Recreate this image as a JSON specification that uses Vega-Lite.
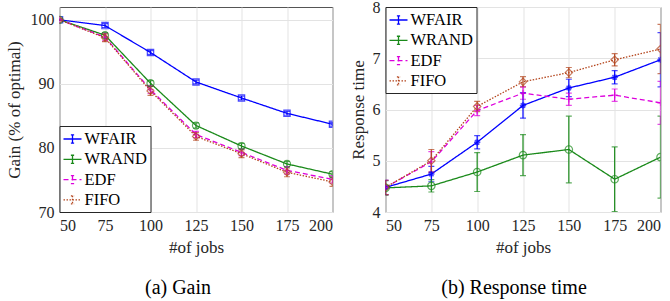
{
  "$schema": "https://vega.github.io/schema/vega-lite/v6.json",
  "padding": {"left": 4.5, "top": -2, "right": 0, "bottom": 0},
  "background": "white",
  "bounds": "flush",
  "spacing": 53,
  "datasets": {
    "gain": [
      {"jobs": 50, "series": "WFAIR", "value": 100, "err": 0.1},
      {"jobs": 75, "series": "WFAIR", "value": 99.1, "err": 0.3},
      {"jobs": 100, "series": "WFAIR", "value": 94.9, "err": 0.3},
      {"jobs": 125, "series": "WFAIR", "value": 90.3, "err": 0.3},
      {"jobs": 150, "series": "WFAIR", "value": 87.8, "err": 0.3},
      {"jobs": 175, "series": "WFAIR", "value": 85.4, "err": 0.3},
      {"jobs": 200, "series": "WFAIR", "value": 83.7, "err": 0.3},
      {"jobs": 50, "series": "WRAND", "value": 100, "err": 0.1},
      {"jobs": 75, "series": "WRAND", "value": 97.6, "err": 0.4},
      {"jobs": 100, "series": "WRAND", "value": 90.1, "err": 0.4},
      {"jobs": 125, "series": "WRAND", "value": 83.5, "err": 0.4},
      {"jobs": 150, "series": "WRAND", "value": 80.3, "err": 0.4},
      {"jobs": 175, "series": "WRAND", "value": 77.5, "err": 0.4},
      {"jobs": 200, "series": "WRAND", "value": 75.9, "err": 0.4},
      {"jobs": 50, "series": "EDF", "value": 100, "err": 0.1},
      {"jobs": 75, "series": "EDF", "value": 97.3, "err": 0.6},
      {"jobs": 100, "series": "EDF", "value": 89.1, "err": 0.6},
      {"jobs": 125, "series": "EDF", "value": 82.1, "err": 0.5},
      {"jobs": 150, "series": "EDF", "value": 79.3, "err": 0.5},
      {"jobs": 175, "series": "EDF", "value": 76.5, "err": 0.6},
      {"jobs": 200, "series": "EDF", "value": 75.1, "err": 0.6},
      {"jobs": 50, "series": "FIFO", "value": 100, "err": 0.1},
      {"jobs": 75, "series": "FIFO", "value": 97.2, "err": 0.6},
      {"jobs": 100, "series": "FIFO", "value": 88.9, "err": 0.7},
      {"jobs": 125, "series": "FIFO", "value": 81.8, "err": 0.6},
      {"jobs": 150, "series": "FIFO", "value": 79.1, "err": 0.6},
      {"jobs": 175, "series": "FIFO", "value": 76.2, "err": 0.7},
      {"jobs": 200, "series": "FIFO", "value": 74.7, "err": 0.7}
    ],
    "resp": [
      {"jobs": 50, "series": "WFAIR", "value": 4.48, "err": 0.14},
      {"jobs": 75, "series": "WFAIR", "value": 4.74, "err": 0.15},
      {"jobs": 100, "series": "WFAIR", "value": 5.36, "err": 0.13},
      {"jobs": 125, "series": "WFAIR", "value": 6.08, "err": 0.25},
      {"jobs": 150, "series": "WFAIR", "value": 6.42, "err": 0.17},
      {"jobs": 175, "series": "WFAIR", "value": 6.63, "err": 0.13},
      {"jobs": 200, "series": "WFAIR", "value": 6.97, "err": 0.53},
      {"jobs": 50, "series": "WRAND", "value": 4.47, "err": 0.14},
      {"jobs": 75, "series": "WRAND", "value": 4.51, "err": 0.12},
      {"jobs": 100, "series": "WRAND", "value": 4.78, "err": 0.38},
      {"jobs": 125, "series": "WRAND", "value": 5.11, "err": 0.4},
      {"jobs": 150, "series": "WRAND", "value": 5.22, "err": 0.65},
      {"jobs": 175, "series": "WRAND", "value": 4.64, "err": 0.63},
      {"jobs": 200, "series": "WRAND", "value": 5.07, "err": 0.8},
      {"jobs": 50, "series": "EDF", "value": 4.48, "err": 0.14},
      {"jobs": 75, "series": "EDF", "value": 4.98, "err": 0.2},
      {"jobs": 100, "series": "EDF", "value": 5.98, "err": 0.1},
      {"jobs": 125, "series": "EDF", "value": 6.32, "err": 0.12},
      {"jobs": 150, "series": "EDF", "value": 6.2, "err": 0.12},
      {"jobs": 175, "series": "EDF", "value": 6.28, "err": 0.12},
      {"jobs": 200, "series": "EDF", "value": 6.13, "err": 0.42},
      {"jobs": 50, "series": "FIFO", "value": 4.48, "err": 0.14},
      {"jobs": 75, "series": "FIFO", "value": 5.0, "err": 0.22},
      {"jobs": 100, "series": "FIFO", "value": 6.06, "err": 0.1},
      {"jobs": 125, "series": "FIFO", "value": 6.54, "err": 0.1},
      {"jobs": 150, "series": "FIFO", "value": 6.72, "err": 0.1},
      {"jobs": 175, "series": "FIFO", "value": 6.97, "err": 0.12},
      {"jobs": 200, "series": "FIFO", "value": 7.18, "err": 0.48}
    ]
  },
  "hconcat": [
    {
      "width": 273,
      "height": 205,
      "data": {"name": "gain"},
      "title": {"text": "(a) Gain", "orient": "bottom", "offset": 23, "dx": -18, "anchor": "middle", "frame": "group"},
      "encoding": {
        "x": {"field": "jobs", "type": "quantitative", "scale": {"domain": [50, 200], "nice": false}, "axis": {"values": [50, 75, 100, 125, 150, 175, 200], "title": "#of jobs"}},
        "y": {"field": "value", "type": "quantitative", "scale": {"domain": [70, 102], "nice": false, "zero": false}, "axis": {"values": [70, 80, 90, 100], "title": "Gain (% of optimal)", "titlePadding": 7}}
      },
      "layer": [
        {
          "mark": {"type": "line", "strokeWidth": 1.3, "clip": true},
          "encoding": {
            "strokeDash": {"field": "series", "type": "nominal", "sort": ["WFAIR", "WRAND", "EDF", "FIFO"], "scale": {"domain": ["WFAIR", "WRAND", "EDF", "FIFO"], "range": [[1, 0], [1, 0], [5, 3], [1.5, 1.5]]}, "legend": {"orient": "bottom-left", "title": null}},
            "color": {"field": "series", "type": "nominal", "sort": ["WFAIR", "WRAND", "EDF", "FIFO"], "scale": {"domain": ["WFAIR", "WRAND", "EDF", "FIFO"], "range": ["#0000ff", "#1a8a1a", "#dd00dd", "#b4461e"]}, "legend": {"orient": "bottom-left", "title": null}}
          }
        },
        {
          "mark": {"type": "errorbar", "ticks": {"size": 6}, "thickness": 1.2, "clip": true},
          "encoding": {
            "yError": {"field": "err"},
            "color": {"field": "series", "type": "nominal", "legend": null}
          }
        },
        {"transform": [{"filter": "datum.series === 'WFAIR'"}], "mark": {"type": "point", "shape": "square", "filled": false, "size": 40, "strokeWidth": 1.2, "color": "#0000ff", "clip": true}},
        {"transform": [{"filter": "datum.series === 'WRAND'"}], "mark": {"type": "point", "shape": "circle", "filled": false, "size": 50, "strokeWidth": 1.2, "color": "#1a8a1a", "clip": true}},
        {"transform": [{"filter": "datum.series === 'EDF'"}], "mark": {"type": "point", "shape": "M-1,0H1M0,-1V1", "filled": false, "size": 40, "strokeWidth": 1.2, "color": "#dd00dd", "clip": true}},
        {"transform": [{"filter": "datum.series === 'FIFO'"}], "mark": {"type": "point", "shape": "diamond", "filled": false, "size": 50, "strokeWidth": 1.2, "color": "#b4461e", "clip": true}}
      ]
    },
    {
      "width": 275,
      "height": 205,
      "data": {"name": "resp"},
      "title": {"text": "(b) Response time", "orient": "bottom", "offset": 23, "dx": -9, "anchor": "middle", "frame": "group"},
      "encoding": {
        "x": {"field": "jobs", "type": "quantitative", "scale": {"domain": [50, 200], "nice": false}, "axis": {"values": [50, 75, 100, 125, 150, 175, 200], "title": "#of jobs"}},
        "y": {"field": "value", "type": "quantitative", "scale": {"domain": [4, 8], "nice": false, "zero": false}, "axis": {"values": [4, 5, 6, 7, 8], "title": "Response time", "titlePadding": 5}}
      },
      "layer": [
        {
          "mark": {"type": "line", "strokeWidth": 1.3, "clip": true},
          "encoding": {
            "strokeDash": {"field": "series", "type": "nominal", "sort": ["WFAIR", "WRAND", "EDF", "FIFO"], "scale": {"domain": ["WFAIR", "WRAND", "EDF", "FIFO"], "range": [[1, 0], [1, 0], [5, 3], [1.5, 1.5]]}, "legend": {"orient": "top-left", "title": null}},
            "color": {"field": "series", "type": "nominal", "sort": ["WFAIR", "WRAND", "EDF", "FIFO"], "scale": {"domain": ["WFAIR", "WRAND", "EDF", "FIFO"], "range": ["#0000ff", "#1a8a1a", "#dd00dd", "#b4461e"]}, "legend": {"orient": "top-left", "title": null}}
          }
        },
        {
          "mark": {"type": "errorbar", "ticks": {"size": 6}, "thickness": 1.2, "clip": true},
          "encoding": {
            "yError": {"field": "err"},
            "color": {"field": "series", "type": "nominal", "legend": null}
          }
        },
        {"transform": [{"filter": "datum.series === 'WFAIR'"}], "mark": {"type": "point", "shape": "M-1,0H1M0,-1V1M-0.7,-0.7L0.7,0.7M-0.7,0.7L0.7,-0.7", "filled": false, "size": 40, "strokeWidth": 1.5, "color": "#0000ff", "clip": true}},
        {"transform": [{"filter": "datum.series === 'WRAND'"}], "mark": {"type": "point", "shape": "circle", "filled": false, "size": 55, "strokeWidth": 1.2, "color": "#1a8a1a", "clip": true}},
        {"transform": [{"filter": "datum.series === 'EDF'"}], "mark": {"type": "point", "shape": "M-1,0H1M0,-1V1", "filled": false, "size": 40, "strokeWidth": 1.2, "color": "#dd00dd", "clip": true}},
        {"transform": [{"filter": "datum.series === 'FIFO'"}], "mark": {"type": "point", "shape": "diamond", "filled": false, "size": 55, "strokeWidth": 1.2, "color": "#b4461e", "clip": true}}
      ]
    }
  ],
  "resolve": {
    "scale": {"x": "independent", "y": "independent", "color": "independent", "strokeDash": "independent"},
    "legend": {"color": "independent", "strokeDash": "independent"}
  },
  "config": {
    "font": "Liberation Serif",
    "view": {"stroke": "#555555", "strokeWidth": 1},
    "axis": {
      "grid": true, "gridColor": "#e3e3e3", "gridWidth": 1,
      "domain": false, "ticks": false,
      "labelFont": "Liberation Serif", "labelFontSize": 16, "labelColor": "#262626", "labelPadding": 5.5,
      "titleFont": "Liberation Serif", "titleFontSize": 17, "titleFontWeight": "normal", "titleColor": "#262626"
    },
    "axisX": {"labelPadding": 5.5, "titlePadding": 5.5},
    "legend": {
      "fillColor": "white", "strokeColor": "#262626", "strokeWidth": 1,
      "padding": 3, "offset": 0, "rowPadding": 1.3,
      "labelFont": "Liberation Serif", "labelFontSize": 16.5, "labelColor": "#000000", "labelOffset": 2,
      "symbolType": "M-1,0H1M0,-0.45V0.45M-0.18,-0.45H0.18M-0.18,0.45H0.18",
      "symbolSize": 324, "symbolStrokeWidth": 1.3
    },
    "title": {"font": "Liberation Serif", "fontSize": 20, "fontWeight": "normal", "color": "#000000"}
  }
}
